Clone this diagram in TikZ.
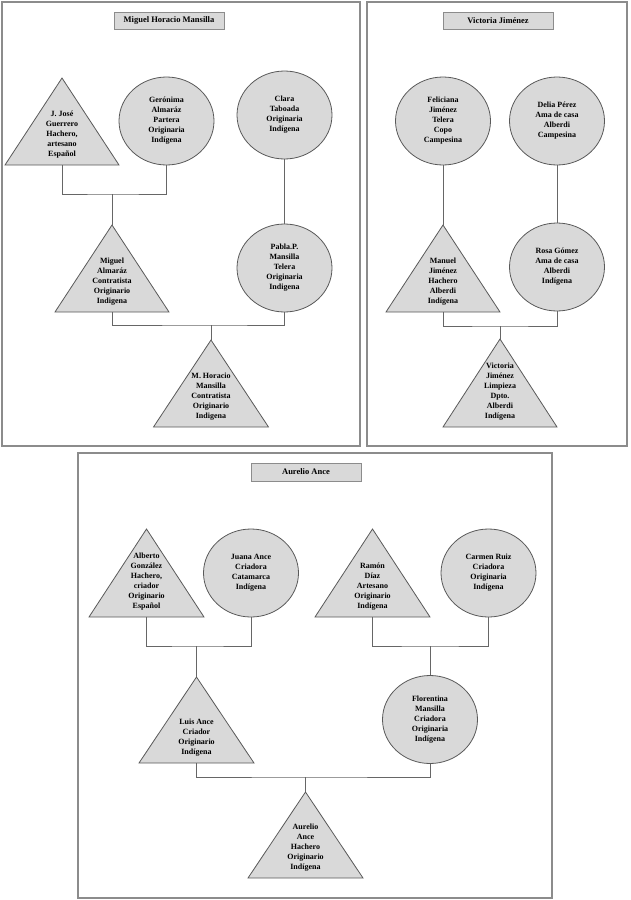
\documentclass[tikz,border=0pt]{standalone}
\usepackage{fontspec}
\setmainfont{Liberation Serif}
\usetikzlibrary{shapes.geometric}
\definecolor{shapefill}{HTML}{D9D9D9}
\definecolor{shapeline}{HTML}{595959}
\definecolor{panelline}{HTML}{8C8C8C}
\definecolor{linkcol}{HTML}{666666}
\tikzset{
  panel/.style={draw=panelline, line width=1.2pt},
  titlebox/.style={draw=panelline, fill=shapefill, line width=1pt, inner sep=0pt,
    font=\bfseries\fontsize{8.5}{10}\selectfont},
  person/.style={align=center, font=\bfseries\fontsize{8}{10}\selectfont, inner sep=0pt},
  fem/.style={ellipse, draw=shapeline, fill=shapefill, line width=0.8pt,
    minimum width=95pt, minimum height=88pt, person},
  trishape/.style={draw=shapeline, fill=shapefill, line width=0.8pt},
  link/.style={draw=linkcol, line width=1pt},
}
% name, cx, apex y, base y, half width, text
\newcommand\maletri[6]{%
  \draw[trishape] (#2,#3) -- (#2+#5,#4) -- (#2-#5,#4) -- cycle;
  \coordinate (#1-t) at (#2,#3);
  \coordinate (#1-b) at (#2,#4);
  \node[person, anchor=south] (#1) at (#2,#4-7) {#6};
}
\begin{document}
\begin{tikzpicture}[x=1pt,y=-1pt]
\useasboundingbox (0,0) rectangle (630,900);
% panels
\draw[panel] (2,2) rectangle (360,446);
\draw[panel] (367,2) rectangle (627,446);
\draw[panel] (78,453) rectangle (552,898);
% titles
\node[titlebox, minimum width=110pt, minimum height=17pt] (t1) at (169,20.5) {Miguel Horacio Mansilla};
\node[titlebox, minimum width=110pt, minimum height=17pt] (t2) at (498,20.5) {Victoria Jiménez};
\node[titlebox, minimum width=110pt, minimum height=18pt] (t3) at (306,472) {Aurelio Ance};

% ---- panel 1
\maletri{jj}{62}{78}{165}{57}{J. José\\Guerrero\\Hachero,\\artesano\\Español}
\node[fem] (ger) at (166.5,121) {Gerónima\\Almaráz\\Partera\\Originaria\\Indígena};
\node[fem] (cla) at (284.5,115) {Clara\\Taboada\\Originaria\\Indígena};
\maletri{mig}{112}{225}{312}{57}{Miguel\\Almaráz\\Contratista\\Originario\\Indigena}
\node[fem] (pab) at (284.5,268) {Pabla.P.\\Mansilla\\Telera\\Originaria\\Indigena};
\maletri{mh}{211}{340}{427}{57.5}{M. Horacio\\Mansilla\\Contratista\\Originario\\Indigena}
\coordinate (j1) at (112,194);
\coordinate (j2) at (211,325);
\draw[link] (jj-b) |- (j1) -| (ger.south);
\draw[link] (j1) -- (mig-t);
\draw[link] (cla.south) -- (pab.north);
\draw[link] (mig-b) |- (j2) -| (pab.south);
\draw[link] (j2) -- (mh-t);

% ---- panel 2
\node[fem] (fel) at (443,121) {Feliciana\\Jiménez\\Telera\\Copo\\Campesina};
\node[fem] (del) at (557,121) {Delia Pérez\\Ama de casa\\Alberdi\\Campesina};
\maletri{man}{443}{225}{312}{57}{Manuel\\Jiménez\\Hachero\\Alberdi\\Indígena}
\node[fem] (ros) at (557,267) {Rosa Gómez\\Ama de casa\\Alberdi\\Indígena};
\maletri{vic}{500}{339}{427}{57}{Victoria\\Jiménez\\Limpieza\\Dpto.\\Alberdi\\Indígena}
\coordinate (j3) at (500,326);
\draw[link] (fel.south) -- (man-t);
\draw[link] (del.south) -- (ros.north);
\draw[link] (man-b) |- (j3) -| (ros.south);
\draw[link] (j3) -- (vic-t);

% ---- panel 3
\maletri{alb}{146.5}{529}{617}{57.5}{Alberto\\González\\Hachero,\\criador\\Originario\\Español}
\node[fem] (jua) at (251,573) {Juana Ance\\Criadora\\Catamarca\\Indígena};
\maletri{ram}{372.5}{529}{617}{57.5}{Ramón\\Díaz\\Artesano\\Originario\\Indígena}
\node[fem] (car) at (488.5,573) {Carmen Ruiz\\Criadora\\Originaria\\Indígena};
\maletri{luis}{196.5}{677}{763}{57.5}{Luis Ance\\Criador\\Originario\\Indígena}
\node[fem] (flo) at (430,719.5) {Florentina\\Mansilla\\Criadora\\Originaria\\Indígena};
\maletri{aur}{305.5}{792}{878}{57.5}{Aurelio\\Ance\\Hachero\\Originario\\Indígena}
\coordinate (j4) at (196.5,646);
\coordinate (j5) at (430,646);
\coordinate (j6) at (305.5,777);
\draw[link] (alb-b) |- (j4) -| (jua.south);
\draw[link] (j4) -- (luis-t);
\draw[link] (ram-b) |- (j5) -| (car.south);
\draw[link] (j5) -- (flo.north);
\draw[link] (luis-b) |- (j6) -| (flo.south);
\draw[link] (j6) -- (aur-t);
\end{tikzpicture}
\end{document}
